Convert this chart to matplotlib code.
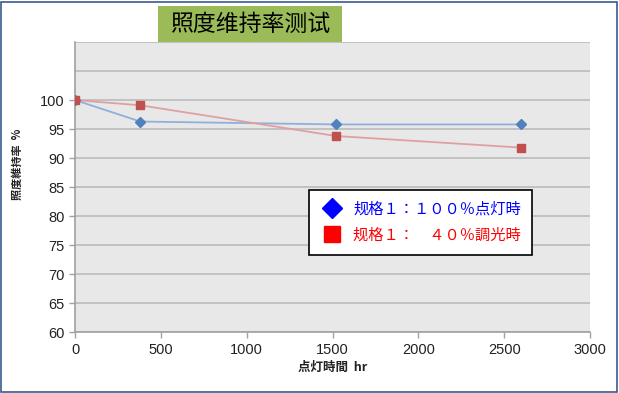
import matplotlib

matplotlib.use("Agg")
import matplotlib.pyplot as plt
from matplotlib.lines import Line2D
from matplotlib.patches import Rectangle

plt.rcParams["font.family"] = ["Noto Sans CJK JP", "DejaVu Sans"]

# data
hours = [0, 380, 1520, 2600]
full_on = [100, 96.3, 95.8, 95.8]      # 100% lit
dimmed_40 = [100, 99.1, 93.8, 91.8]    # 40% dimmed

y_ticks = [60, 65, 70, 75, 80, 85, 90, 95, 100]
grid_levels = [60, 65, 70, 75, 80, 85, 90, 95, 100, 105, 110]
x_ticks = [0, 500, 1000, 1500, 2000, 2500, 3000]

title = "照度维持率测试"
label_full = "规格１：１００％点灯時"
label_dim = "规格１：　４０％調光時"

fig = plt.figure(figsize=(6.19, 3.93), dpi=100)
fig.patch.set_facecolor("white")
fig.patches.append(Rectangle((0.002, 0.003), 0.994, 0.992, transform=fig.transFigure,
                             fill=False, edgecolor="#3a5a8c", linewidth=1.2))

ax = fig.add_axes([0.1212, 0.155, 0.832, 0.738])
ax.set_facecolor("#e8e8e8")

for g in grid_levels:
    ax.axhline(g, color="#bfbfbf", linewidth=1.3, zorder=1)

ax.plot(hours, full_on, color="#8fb0dc", linewidth=1.3, zorder=2)
ax.plot(hours, full_on, linestyle="none", marker="D", markersize=5.5,
        color="#4f81bd", zorder=3)
ax.plot(hours, dimmed_40, color="#e0a0a0", linewidth=1.3, zorder=2)
ax.plot(hours, dimmed_40, linestyle="none", marker="s", markersize=6,
        color="#c0504d", zorder=3)

ax.set_xlim(0, 3000)
ax.set_ylim(60, 110)
ax.set_xticks(x_ticks)
ax.set_yticks(y_ticks)
ax.tick_params(axis="both", colors="#a0a0a0", labelcolor="#222222",
               labelsize=10.5, length=4, width=1)
for lab in ax.get_xticklabels() + ax.get_yticklabels():
    lab.set_family(["Liberation Sans", "DejaVu Sans"])
for s in ["top", "right"]:
    ax.spines[s].set_visible(False)
for s in ["left", "bottom"]:
    ax.spines[s].set_color("#a0a0a0")
    ax.spines[s].set_linewidth(1.2)

ax.set_xlabel("点灯時間  hr", fontsize=9, fontweight="bold", color="#222222", labelpad=3)
ax.set_ylabel("照度維持率  %", fontsize=8, fontweight="bold", color="#222222")
ax.yaxis.set_label_coords(-0.1, 0.58)

# title in green box
fig.patches.append(Rectangle((0.2553, 0.893), 0.297, 0.0916, transform=fig.transFigure,
                             facecolor="#9bbb59", edgecolor="none"))
fig.text(0.404, 0.938, title, fontsize=16.5, color="black", ha="center", va="center")

handles = [
    Line2D([], [], linestyle="none", marker="D", markersize=10, color="#0000ff"),
    Line2D([], [], linestyle="none", marker="s", markersize=11, color="#ff0000"),
]
leg = ax.legend(handles, [label_full, label_dim], loc="upper left",
                bbox_to_anchor=(0.454, 0.49), borderaxespad=0, fontsize=11,
                frameon=True, fancybox=False, edgecolor="black", framealpha=1,
                handletextpad=0.6, borderpad=0.7, labelspacing=0.6,
                handlelength=1.6)
leg.get_frame().set_linewidth(1.2)
leg.get_texts()[0].set_color("#0000ff")
leg.get_texts()[1].set_color("#ff0000")

fig.savefig("out.png", dpi=100)
